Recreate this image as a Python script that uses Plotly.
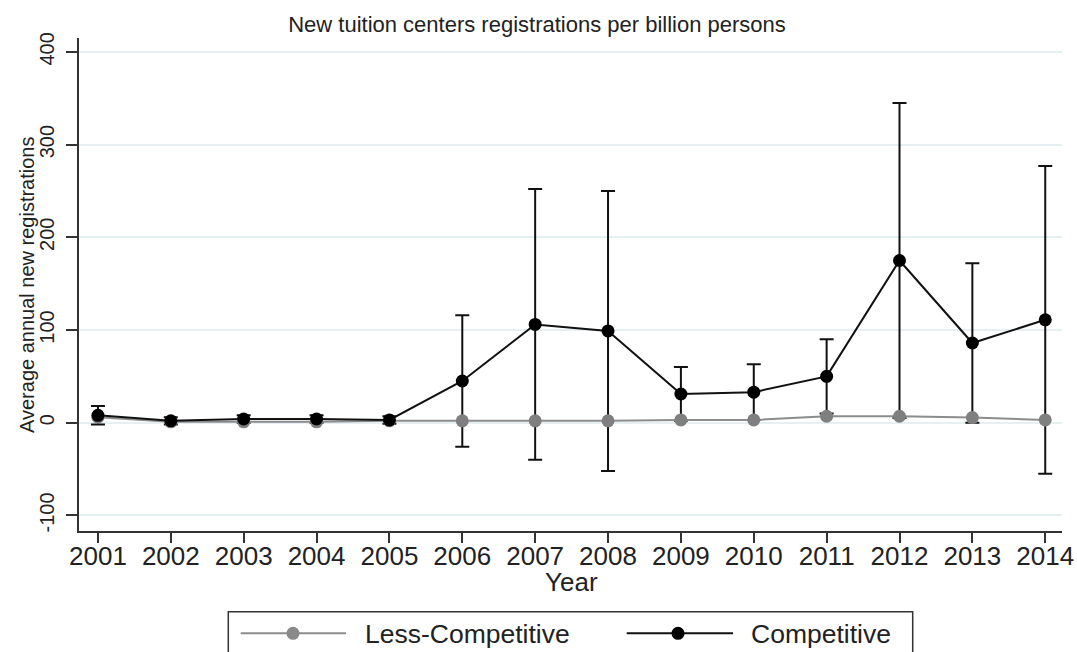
import plotly.graph_objects as go

years = [2001, 2002, 2003, 2004, 2005, 2006, 2007, 2008, 2009, 2010, 2011, 2012, 2013, 2014]
competitive = [8, 2, 4, 4, 3, 45, 106, 99, 31, 33, 50, 175, 86, 111]
competitive_err = [10, 4, 4, 4, 4, 71, 146, 151, 29, 30, 40, 170, 86, 166]
less_competitive = [6, 1, 1, 1, 2, 2, 2, 2, 3, 3, 7, 7, 5.5, 3]

y_ticks = [-100, 0, 100, 200, 300, 400]
y_ticklabels = ["-100", "0", "100", "200", "300", "400"]

series_names = ["Less-Competitive", "Competitive"]
series_colors = ["#8a8a8a", "#000000"]

FONT = "Liberation Sans, Arial, sans-serif"
W, H = 1077, 652
ML, MR, MT, MB = 79, 15, 38, 121
PW, PH = W - ML - MR, H - MT - MB


def px2x(px):
    return (px - ML) / PW


def py2y(py):
    return (H - MB - py) / PH


fig = go.Figure()

# error bars for the competitive series (drawn beneath the grey series)
fig.add_trace(go.Scatter(
    x=years, y=competitive, mode="markers",
    marker=dict(size=1, color="rgba(0,0,0,0)"),
    error_y=dict(type="data", array=competitive_err, visible=True,
                 color="#111111", thickness=2, width=7),
    showlegend=False, hoverinfo="skip",
))

fig.add_trace(go.Scatter(
    x=years, y=less_competitive, mode="lines+markers", name=series_names[0],
    line=dict(color="#8c8c8c", width=2),
    marker=dict(color="#7f7f7f", size=13),
    showlegend=False,
))

fig.add_trace(go.Scatter(
    x=years, y=competitive, mode="lines+markers", name=series_names[1],
    line=dict(color="#111111", width=2),
    marker=dict(color="#000000", size=13),
    showlegend=False,
))

# legend drawn as a box cut off by the bottom edge, like the reference
shapes = [dict(type="rect", xref="paper", yref="paper",
               x0=px2x(228.3), x1=px2x(912.7), y0=py2y(611.7), y1=py2y(680),
               line=dict(color="#333333", width=1.5), fillcolor="white", layer="above")]
annotations = []
legend_y = 633.3
entries = [(240.7, 346, 293, 363, series_names[0], series_colors[0], "#8c8c8c"),
           (626.7, 733, 678, 749, series_names[1], series_colors[1], "#111111")]
for x0, x1, xm, xt, name, mcol, lcol in entries:
    shapes.append(dict(type="line", xref="paper", yref="paper",
                       x0=px2x(x0), x1=px2x(x1), y0=py2y(legend_y), y1=py2y(legend_y),
                       line=dict(color=lcol, width=2), layer="above"))
    r = 6.5
    shapes.append(dict(type="circle", xref="paper", yref="paper",
                       x0=px2x(xm - r), x1=px2x(xm + r),
                       y0=py2y(legend_y + r), y1=py2y(legend_y - r),
                       line=dict(color=mcol, width=0), fillcolor=mcol, layer="above"))
    annotations.append(dict(text=name, xref="paper", yref="paper",
                            x=px2x(xt), y=py2y(legend_y + 1), xanchor="left", yanchor="middle",
                            showarrow=False, font=dict(size=26.5, color="#222222")))

# axis titles
annotations.append(dict(text="Year", xref="paper", yref="paper",
                        x=px2x(571), y=py2y(582), xanchor="center", yanchor="middle",
                        showarrow=False, font=dict(size=26, color="#222222")))
annotations.append(dict(text="Average annual new registrations", xref="paper", yref="paper",
                        x=px2x(27), y=py2y(285), xanchor="center", yanchor="middle",
                        textangle=-90, showarrow=False, font=dict(size=20, color="#222222")))

fig.update_layout(
    width=W, height=H,
    margin=dict(l=ML, r=MR, t=MT, b=MB, autoexpand=False),
    paper_bgcolor="white", plot_bgcolor="white",
    font=dict(family=FONT, color="#222222"),
    showlegend=False,
    title=dict(text="New tuition centers registrations per billion persons",
               x=537 / W, xanchor="center", y=1 - 24 / H, yanchor="middle",
               font=dict(size=22, color="#222222")),
    xaxis=dict(
        range=[2000.74, 2014.23], tickvals=years, ticktext=[str(y) for y in years],
        tickfont=dict(size=26, color="#222222"),
        ticks="outside", ticklen=10, tickwidth=1.5, tickcolor="#333333",
        ticklabelstandoff=-9,
        showline=True, linecolor="#333333", linewidth=1.5,
        showgrid=False, zeroline=False,
    ),
    yaxis=dict(
        range=[-116.8, 415], tickvals=y_ticks, ticktext=y_ticklabels,
        tickangle=-90, tickfont=dict(size=20, color="#222222"),
        ticks="outside", ticklen=11, tickwidth=1.5, tickcolor="#333333",
        ticklabelstandoff=4,
        showline=True, linecolor="#333333", linewidth=1.5,
        showgrid=True, gridcolor="#e6eff1", gridwidth=1.5, zeroline=False,
    ),
    shapes=shapes,
    annotations=annotations,
)

fig.write_html("out.html")
